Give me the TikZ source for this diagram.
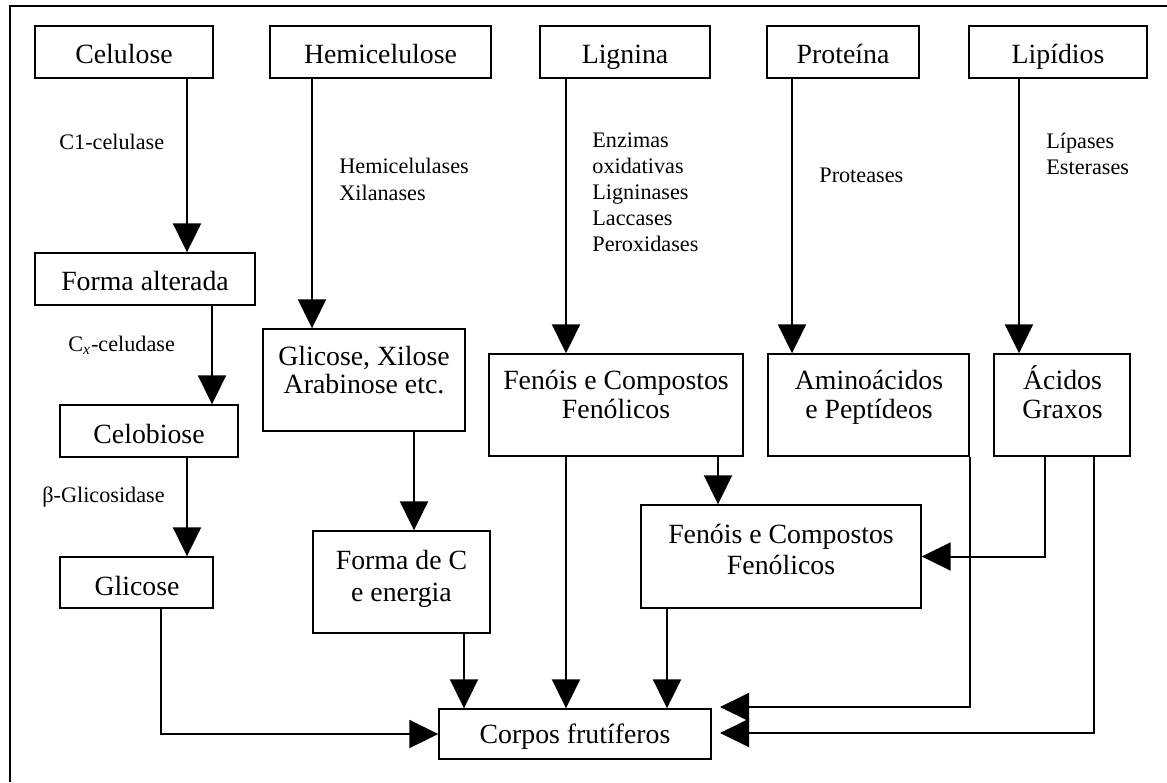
\documentclass[tikz,border=0pt]{standalone}
\usepackage{fontspec}
\setmainfont{Liberation Serif}
\usetikzlibrary{arrows.meta}
\newcommand\mybox[5]{\node[bx, minimum width={(#4-#2)*0.5pt}, minimum height={(#5-#3)*0.5pt}] (#1) at ({(#2+#4)/2},{(#3+#5)/2}) {};}
\begin{document}
\begin{tikzpicture}[x=0.5pt,y=-0.5pt,
  bx/.style={draw, line width=0.7pt, inner sep=0pt, rectangle},
  bt/.style={font=\fontsize{13.9}{14}\selectfont, anchor=base, align=center, inner sep=0pt},
  lb/.style={font=\fontsize{11.1}{13}\selectfont, anchor=base west, align=left, inner sep=0pt},
  arr/.style={line width=1pt, -{Triangle[width=14pt,length=14.5pt]}},
  frameline/.style={line width=1.3pt}]
\useasboundingbox (0,0) rectangle (1167,782);
% frame
\coordinate (fbl) at (10,782);
\coordinate (ftl) at (10,6);
\coordinate (ftr) at (1167,6);
\draw[frameline] (fbl) -- (ftl) -- (ftr);
% boxes
\mybox{cel}{35}{26}{213}{78}
\mybox{hemi}{270}{26}{491}{78}
\mybox{lig}{540}{26}{710}{78}
\mybox{prot}{767}{26}{919}{78}
\mybox{lip}{969}{26}{1147}{78}
\mybox{fa}{35}{253}{255}{305}
\mybox{celob}{60}{405}{238}{457}
\mybox{gli}{60}{557}{213}{608}
\mybox{glix}{263}{329}{465}{431}
\mybox{formac}{313}{531}{490}{633}
\mybox{fen}{489}{354}{743}{456}
\mybox{amino}{768}{354}{969}{456}
\mybox{acid}{994}{354}{1130}{456}
\mybox{fenb}{641}{505}{921}{608}
\mybox{corpos}{439}{709}{711}{759}
% box texts (base = baseline of last line)
\node[bt] (tcel) at (124,63.5) {Celulose};
\node[bt] (themi) at (380.5,63.5) {Hemicelulose};
\node[bt] (tlig) at (625,63.5) {Lignina};
\node[bt] (tprot) at (843,63.5) {Proteína};
\node[bt] (tlip) at (1058,63.5) {Lipídios};
\node[bt] (tfa) at (145,290) {Forma alterada};
\node[bt] (tcelob) at (149,443) {Celobiose};
\node[bt] (tgli) at (137,595) {Glicose};
\node[bt] (tglix) at (364,393) {Glicose, Xilose\\Arabinose etc.};
\node[bt] (tformac) at (401.5,601) {Forma de C\\[2pt]e energia};
\node[bt] (tfen) at (616,418) {Fenóis e Compostos\\[0.5pt]Fenólicos};
\node[bt] (tamino) at (869,418) {Aminoácidos\\[0.5pt]e Peptídeos};
\node[bt] (tacid) at (1062.5,418) {Ácidos\\[0.5pt]Graxos};
\node[bt] (tfenb) at (781,574) {Fenóis e Compostos\\[1.5pt]Fenólicos};
\node[bt] (tcorpos) at (575,743) {Corpos frutíferos};
% enzyme labels (base = baseline of last line)
\node[lb] (l1) at (59,149) {C1-celulase};
\node[lb] (l2) at (68,351) {C\textsubscript{\itshape x}-celudase};
\node[lb] (l3) at (42,502) {β-Glicosidase};
\node[lb, font=\fontsize{11.1}{13.5}\selectfont] (l4) at (339,200) {Hemicelulases\\Xilanases};
\node[lb] (l5) at (592,251) {Enzimas\\oxidativas\\Ligninases\\Laccases\\Peroxidases};
\node[lb] (l6) at (819,182) {Proteases};
\node[lb] (l7) at (1046,174) {Lípases\\Esterases};
% connector x positions
\coordinate (xa) at (187,0);
\coordinate (xb) at (212,0);
\coordinate (xc) at (312,0);
\coordinate (xd) at (414,0);
\coordinate (xe) at (464,0);
\coordinate (xf) at (161,0);
\coordinate (xg) at (566,0);
\coordinate (xh) at (718,0);
\coordinate (xi) at (667,0);
\coordinate (xj) at (792,0);
\coordinate (xk) at (1019,0);
\coordinate (xl) at (1045,0);
\coordinate (xm) at (1094,0);
\coordinate (t1) at (720,707);
\coordinate (t2) at (720,733);
% connectors
\draw[arr] (cel.south -| xa) -- (fa.north -| xa);
\draw[arr] (fa.south -| xb) -- (celob.north -| xb);
\draw[arr] (celob.south -| xa) -- (gli.north -| xa);
\draw[arr] (hemi.south -| xc) -- (glix.north -| xc);
\draw[arr] (glix.south -| xd) -- (formac.north -| xd);
\draw[arr] (formac.south -| xe) -- (corpos.north -| xe);
\draw[arr] (gli.south -| xf) |- (corpos.west);
\draw[arr] (lig.south -| xg) -- (fen.north -| xg);
\draw[arr] (fen.south -| xg) -- (corpos.north -| xg);
\draw[arr] (fen.south -| xh) -- (fenb.north -| xh);
\draw[arr] (fenb.south -| xi) -- (corpos.north -| xi);
\draw[arr] (prot.south -| xj) -- (amino.north -| xj);
\draw[arr] (lip.south -| xk) -- (acid.north -| xk);
\draw[arr] (amino.south east) |- (t1);
\draw[arr] (acid.south -| xl) |- (fenb.east);
\draw[arr] (acid.south -| xm) |- (t2);
\end{tikzpicture}
\end{document}
